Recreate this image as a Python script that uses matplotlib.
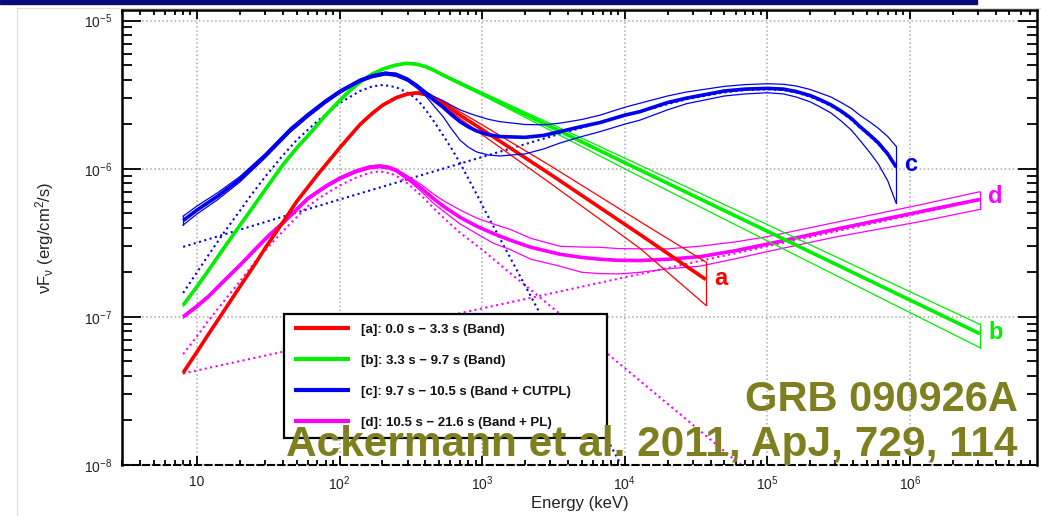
import numpy as np
import matplotlib
matplotlib.use('Agg')
import matplotlib.pyplot as plt
from matplotlib.ticker import LogLocator, FixedLocator, FuncFormatter, NullFormatter
from matplotlib.patches import Rectangle
from matplotlib.lines import Line2D

plt.rcParams['font.family'] = ['Liberation Sans', 'DejaVu Sans']
plt.rcParams['mathtext.fontset'] = 'custom'
plt.rcParams['mathtext.rm'] = 'Liberation Sans'
plt.rcParams['mathtext.it'] = 'Liberation Sans:italic'
plt.rcParams['mathtext.bf'] = 'Liberation Sans:bold'

# [a] 0.0 s - 3.3 s (Band)
e_a = [8, 10, 12, 15, 20, 25, 30, 40, 50, 70, 100, 120, 140, 170, 200, 250, 300, 350, 400, 460, 530, 700,
       1000, 3000, 1.28e4, 3.7e4]
f_a = [4.2e-8, 5.8e-8, 7.6e-8, 1.05e-7, 1.6e-7, 2.2e-7, 2.9e-7, 4.35e-7, 6.0e-7, 9.1e-7, 1.38e-6, 1.69e-6,
       2.0e-6, 2.37e-6, 2.68e-6, 3.02e-6, 3.2e-6, 3.25e-6, 3.18e-6, 3.0e-6, 2.77e-6, 2.3e-6, 1.84e-6, 9.2e-7,
       3.6e-7, 1.79e-7]
hi_a = [4.26e-8, 5.89e-8, 7.71e-8, 1.066e-7, 1.624e-7, 2.23e-7, 2.94e-7, 4.42e-7, 6.09e-7, 9.24e-7, 1.4e-6,
        1.715e-6, 2.03e-6, 2.41e-6, 2.72e-6, 3.07e-6, 3.25e-6, 3.3e-6, 3.23e-6, 3.06e-6, 2.86e-6, 2.42e-6,
        1.98e-6, 1.05e-6, 4.4e-7, 2.35e-7]
lo_a = [4.14e-8, 5.71e-8, 7.49e-8, 1.034e-7, 1.576e-7, 2.17e-7, 2.86e-7, 4.28e-7, 5.91e-7, 8.96e-7, 1.36e-6,
        1.665e-6, 1.97e-6, 2.33e-6, 2.64e-6, 2.97e-6, 3.15e-6, 3.2e-6, 3.13e-6, 2.94e-6, 2.68e-6, 2.18e-6,
        1.7e-6, 8.0e-7, 2.9e-7, 1.2e-7]

# [b] 3.3 s - 9.7 s (Band)
e_b = [8, 10, 12, 15, 20, 25, 30, 40, 50, 60, 80, 100, 120, 140, 170, 200, 240, 290, 340, 400, 460, 530, 700,
       1000, 3000, 1e4, 1e5, 1e6, 3.1e6]
f_b = [1.2e-7, 1.6e-7, 2.05e-7, 2.8e-7, 4.15e-7, 5.6e-7, 7.2e-7, 1.06e-6, 1.38e-6, 1.67e-6, 2.3e-6, 2.88e-6,
       3.42e-6, 3.87e-6, 4.37e-6, 4.7e-6, 4.97e-6, 5.15e-6, 5.1e-6, 4.9e-6, 4.62e-6, 4.3e-6, 3.78e-6, 3.21e-6,
       1.93e-6, 1.1e-6, 3.79e-7, 1.3e-7, 7.7e-8]
hi_b = [1.224e-7, 1.632e-7, 2.09e-7, 2.86e-7, 4.23e-7, 5.71e-7, 7.34e-7, 1.081e-6, 1.408e-6, 1.703e-6,
        2.346e-6, 2.94e-6, 3.49e-6, 3.95e-6, 4.42e-6, 4.76e-6, 5.03e-6, 5.21e-6, 5.16e-6, 4.96e-6, 4.68e-6,
        4.36e-6, 3.84e-6, 3.28e-6, 2.02e-6, 1.18e-6, 4.2e-7, 1.48e-7, 8.9e-8]
lo_b = [1.176e-7, 1.568e-7, 2.01e-7, 2.74e-7, 4.07e-7, 5.49e-7, 7.06e-7, 1.039e-6, 1.352e-6, 1.637e-6,
        2.254e-6, 2.82e-6, 3.35e-6, 3.79e-6, 4.32e-6, 4.64e-6, 4.91e-6, 5.09e-6, 5.04e-6, 4.84e-6, 4.56e-6,
        4.24e-6, 3.71e-6, 3.14e-6, 1.82e-6, 1.0e-6, 3.26e-7, 1.07e-7, 6.2e-8]

# [c] 9.7 s - 10.5 s (Band + CUTPL)
e_c = [8, 10, 14, 20, 30, 45, 60, 80, 100, 120, 140, 170, 210, 250, 300, 350, 408, 460, 533, 600, 700, 800,
       914, 1100, 1330, 2000, 2700, 3500, 5000, 6700, 1e4, 1.28e4, 2e4, 2.72e4, 5e4, 7e4, 1e5, 1.3e5, 1.6e5,
       2e5, 2.34e5, 2.8e5, 3.3e5, 3.9e5, 4.46e5, 5.2e5, 6e5, 7e5, 8e5]
f_c = [4.47e-7, 5.26e-7, 6.54e-7, 8.5e-7, 1.22e-6, 1.82e-6, 2.3e-6, 2.85e-6, 3.3e-6, 3.65e-6, 3.95e-6,
       4.22e-6, 4.4e-6, 4.32e-6, 4.0e-6, 3.62e-6, 3.2e-6, 2.9e-6, 2.6e-6, 2.35e-6, 2.08e-6, 1.92e-6, 1.8e-6,
       1.7e-6, 1.65e-6, 1.63e-6, 1.68e-6, 1.78e-6, 1.93e-6, 2.05e-6, 2.3e-6, 2.43e-6, 2.8e-6, 3.0e-6, 3.35e-6,
       3.45e-6, 3.49e-6, 3.45e-6, 3.32e-6, 3.12e-6, 2.93e-6, 2.7e-6, 2.45e-6, 2.18e-6, 1.93e-6, 1.7e-6, 1.5e-6,
       1.26e-6, 1.03e-6]
hi_c = [4.79e-7, 5.6e-7, 6.9e-7, 8.85e-7, 1.26e-6, 1.88e-6, 2.37e-6, 2.93e-6, 3.39e-6, 3.73e-6, 4.04e-6,
        4.32e-6, 4.5e-6, 4.42e-6, 4.1e-6, 3.71e-6, 3.3e-6, 3.07e-6, 2.88e-6, 2.7e-6, 2.5e-6, 2.38e-6, 2.28e-6,
        2.16e-6, 2.08e-6, 1.99e-6, 1.98e-6, 2.03e-6, 2.15e-6, 2.3e-6, 2.6e-6, 2.77e-6, 3.1e-6, 3.3e-6, 3.6e-6,
        3.7e-6, 3.75e-6, 3.72e-6, 3.62e-6, 3.43e-6, 3.25e-6, 3.05e-6, 2.8e-6, 2.55e-6, 2.3e-6, 2.08e-6,
        1.88e-6, 1.65e-6, 1.42e-6]
lo_c = [4.17e-7, 4.95e-7, 6.2e-7, 8.15e-7, 1.18e-6, 1.76e-6, 2.23e-6, 2.77e-6, 3.22e-6, 3.57e-6, 3.86e-6,
        4.12e-6, 4.3e-6, 4.2e-6, 3.9e-6, 3.5e-6, 3.05e-6, 2.65e-6, 2.25e-6, 1.9e-6, 1.56e-6, 1.4e-6, 1.3e-6,
        1.24e-6, 1.22e-6, 1.26e-6, 1.36e-6, 1.49e-6, 1.65e-6, 1.78e-6, 2.0e-6, 2.13e-6, 2.5e-6, 2.75e-6,
        3.1e-6, 3.2e-6, 3.26e-6, 3.2e-6, 3.05e-6, 2.83e-6, 2.62e-6, 2.38e-6, 2.1e-6, 1.82e-6, 1.56e-6, 1.3e-6,
        1.08e-6, 8.3e-7, 5.9e-7]
e_c_band = [8, 10, 12, 15.3, 20, 23.5, 30, 40, 50, 70, 100, 139, 170, 203, 250, 312, 360, 408, 470, 533, 610,
            698, 800, 914, 1050, 1190, 1410, 1800, 2540, 4000, 5700, 1e4]
f_c_band = [1.45e-7, 2.0e-7, 2.6e-7, 3.66e-7, 5.2e-7, 6.47e-7, 8.8e-7, 1.23e-6, 1.56e-6, 2.1e-6, 2.77e-6,
            3.35e-6, 3.6e-6, 3.68e-6, 3.55e-6, 3.2e-6, 2.85e-6, 2.45e-6, 2.02e-6, 1.68e-6, 1.37e-6, 1.1e-6,
            8.6e-7, 6.75e-7, 5.2e-7, 4.15e-7, 3.06e-7, 1.97e-7, 1.06e-7, 4.7e-8, 2.48e-8, 9.0e-9]
e_c_cpl = [8, 100, 1000, 3500, 1e4, 2e4, 2.72e4, 5e4, 7e4, 1e5, 1.3e5, 1.6e5, 2e5, 2.34e5, 2.8e5, 3.3e5, 3.9e5,
           4.46e5, 5.2e5, 6e5, 7e5, 8e5]
f_c_cpl = [2.97e-7, 6.2e-7, 1.2e-6, 1.72e-6, 2.28e-6, 2.73e-6, 2.95e-6, 3.28e-6, 3.4e-6, 3.44e-6, 3.4e-6,
           3.27e-6, 3.07e-6, 2.88e-6, 2.65e-6, 2.41e-6, 2.14e-6, 1.9e-6, 1.67e-6, 1.47e-6, 1.24e-6, 1.02e-6]

# [d] 10.5 s - 21.6 s (Band + PL)
e_d = [8, 10, 12, 15, 20, 26, 32, 40, 50, 60, 80, 100, 130, 163, 192, 220, 250, 312, 380, 450, 533, 700, 914,
       1200, 1570, 2200, 3500, 5000, 6750, 9000, 1.28e4, 2e4, 3.37e4, 6e4, 1e5, 3e5, 1.17e6, 3.1e6]
f_d = [1.0e-7, 1.18e-7, 1.37e-7, 1.7e-7, 2.23e-7, 2.9e-7, 3.55e-7, 4.3e-7, 5.3e-7, 6.3e-7, 7.6e-7, 8.6e-7,
       9.6e-7, 1.025e-6, 1.04e-6, 1.02e-6, 9.75e-7, 8.45e-7, 7.3e-7, 6.35e-7, 5.6e-7, 4.7e-7, 4.1e-7, 3.65e-7,
       3.3e-7, 2.95e-7, 2.65e-7, 2.52e-7, 2.45e-7, 2.41e-7, 2.4e-7, 2.45e-7, 2.55e-7, 2.8e-7, 3.1e-7, 3.9e-7,
       5.12e-7, 6.21e-7]
hi_d = [1.02e-7, 1.21e-7, 1.4e-7, 1.74e-7, 2.28e-7, 2.97e-7, 3.63e-7, 4.4e-7, 5.42e-7, 6.45e-7, 7.77e-7,
        8.8e-7, 9.82e-7, 1.048e-6, 1.064e-6, 1.043e-6, 9.97e-7, 8.75e-7, 7.73e-7, 6.81e-7, 6.1e-7, 5.27e-7,
        4.65e-7, 4.24e-7, 3.9e-7, 3.39e-7, 3.0e-7, 2.96e-7, 2.95e-7, 2.89e-7, 2.88e-7, 2.88e-7, 3.0e-7,
        3.21e-7, 3.48e-7, 4.34e-7, 5.7e-7, 7.0e-7]
lo_d = [9.8e-8, 1.15e-7, 1.34e-7, 1.66e-7, 2.18e-7, 2.83e-7, 3.47e-7, 4.2e-7, 5.18e-7, 6.15e-7, 7.43e-7,
        8.4e-7, 9.38e-7, 1.0e-6, 1.016e-6, 9.97e-7, 9.53e-7, 8.16e-7, 6.94e-7, 5.92e-7, 5.19e-7, 4.24e-7,
        3.65e-7, 3.14e-7, 2.85e-7, 2.45e-7, 2.2e-7, 2.0e-7, 1.96e-7, 1.95e-7, 2.0e-7, 2.11e-7, 2.2e-7, 2.47e-7,
        2.76e-7, 3.46e-7, 4.39e-7, 5.32e-7]
e_d_band = [8, 10, 12, 15.3, 20, 26.2, 35, 45, 58.7, 75, 100, 130, 163, 192, 230, 270, 312, 380, 450, 533, 700,
            1020, 1500, 2200, 3500, 6000, 1.28e4, 3e4, 5.8e4, 7.5e4]
f_d_band = [5.6e-8, 7.4e-8, 9.4e-8, 1.26e-7, 1.74e-7, 2.42e-7, 3.3e-7, 4.25e-7, 5.5e-7, 6.5e-7, 7.7e-7, 8.7e-7,
            9.4e-7, 9.6e-7, 9.3e-7, 8.6e-7, 7.7e-7, 6.5e-7, 5.5e-7, 4.7e-7, 3.7e-7, 2.8e-7, 2.05e-7, 1.52e-7,
            1.05e-7, 6.8e-8, 3.7e-8, 1.87e-8, 1.1e-8, 9.0e-9]
e_d_pl = [8, 3.1e6]
f_d_pl = [4.15e-8, 6.15e-7]

labels = ['[a]: 0.0 s \u2212 3.3 s (Band)',
          '[b]: 3.3 s \u2212 9.7 s (Band)',
          '[c]: 9.7 s \u2212 10.5 s (Band + CUTPL)',
          '[d]: 10.5 s \u2212 21.6 s (Band + PL)']
colors = ['#ff0000', '#00f000', '#0000f0', '#ff00ff']
olive = '#7f7f20'

fig = plt.figure(figsize=(10.41, 5.16), dpi=100)
ax = fig.add_axes([122 / 1041, 1 - 465 / 516, 915 / 1041, 455 / 516])

# slide decoration
fig.patches.append(Rectangle((0, 1 - 4 / 516), 977 / 1041, 4 / 516, transform=fig.transFigure,
                             color='#0a0a7a', zorder=0))
fig.lines.append(Line2D([17 / 1041, 17 / 1041], [0, 1 - 8 / 516], transform=fig.transFigure,
                        color='#dddddd', lw=0.8))
fig.lines.append(Line2D([17 / 1041, 1], [1 - 8 / 516, 1 - 8 / 516], transform=fig.transFigure,
                        color='#dddddd', lw=0.8))


def bowtie(e, mid, hi, lo, color, close_start=False):
    ax.plot(e, hi, color=color, lw=0.9)
    ax.plot(e, lo, color=color, lw=0.9)
    ax.plot([e[-1], e[-1]], [lo[-1], hi[-1]], color=color, lw=0.9)
    if close_start:
        ax.plot([e[0], e[0]], [lo[0], hi[0]], color=color, lw=0.9)
    line, = ax.plot(e, mid, color=color, lw=2.6, solid_capstyle='butt', solid_joinstyle='round')
    return line


# component models (dotted)
ax.plot(e_d_band, f_d_band, color=colors[3], lw=1.5, ls=':')
ax.plot(e_d_pl, f_d_pl, color=colors[3], lw=1.5, ls=':')
ax.plot(e_c_band, f_c_band, color=colors[2], lw=1.5, ls=':')
ax.plot(e_c_cpl, f_c_cpl, color=colors[2], lw=1.5, ls=':')

ld = bowtie(e_d, f_d, hi_d, lo_d, colors[3])
la = bowtie(e_a, f_a, hi_a, lo_a, colors[0])
lb = bowtie(e_b, f_b, hi_b, lo_b, colors[1])
lc = bowtie(e_c, f_c, hi_c, lo_c, colors[2], close_start=True)

# end labels
for e, f, c, t, dy in [(e_a, f_a, colors[0], 'a', 1), (e_b, f_b, colors[1], 'b', 1),
                       (e_c, f_c, colors[2], 'c', 2), (e_d, f_d, colors[3], 'd', 2)]:
    ax.annotate(t, (e[-1], f[-1]), xytext=(6, dy), textcoords='offset points',
                color=c, fontsize=17, fontweight='bold', ha='left', va='center')

ax.set_xscale('log')
ax.set_yscale('log')
ax.set_xlim(2.98, 7.8e6)
ax.set_ylim(1e-8, 1.18e-5)

ax.xaxis.set_major_locator(FixedLocator([1e1, 1e2, 1e3, 1e4, 1e5, 1e6]))
ax.xaxis.set_minor_locator(LogLocator(base=10, subs=np.arange(2, 10), numticks=100))
ax.xaxis.set_minor_formatter(NullFormatter())
ax.xaxis.set_major_formatter(FuncFormatter(
    lambda v, p: '10' if abs(v - 10) < 1e-6 else r'$10^{%d}$' % round(np.log10(v))))
ax.yaxis.set_major_locator(FixedLocator([1e-8, 1e-7, 1e-6, 1e-5]))
ax.yaxis.set_minor_locator(LogLocator(base=10, subs=np.arange(2, 10), numticks=100))
ax.yaxis.set_minor_formatter(NullFormatter())

ax.tick_params(which='both', direction='in', top=True, right=True, width=1.3, colors='black',
               labelcolor='#222222', labelsize=10)
ax.tick_params(axis='y', which='major', length=14, pad=7)
ax.tick_params(axis='y', which='minor', length=7.5)
ax.tick_params(axis='x', which='major', length=6.5, pad=7)
ax.tick_params(axis='x', which='minor', length=3.8)

for s in ['left', 'top', 'right']:
    ax.spines[s].set_linewidth(1.8)
ax.spines['bottom'].set_linewidth(1.5)
ax.spines['bottom'].set_linestyle((0, (3, 2)))

ax.grid(True, which='major', color='#aaaaaa', ls=':', lw=1.1)

ax.set_xlabel('Energy (keV)', fontsize=12, color='#222222', labelpad=2)
ax.set_ylabel('\u03bdF$_\\mathregular{\u03bd}$ (erg/cm$^2$/s)', fontsize=12, color='#222222', labelpad=20)

leg = ax.legend([la, lb, lc, ld], labels, loc='upper left',
                bbox_to_anchor=(162 / 915, 151 / 455, 323 / 915, 0.0), mode='expand',
                prop={'weight': 'bold', 'size': 9.5}, handlelength=4.3, handletextpad=0.8,
                labelspacing=1.42, borderpad=0.72, fancybox=False, framealpha=1, borderaxespad=0)
leg.get_frame().set_edgecolor('black')
leg.get_frame().set_linewidth(1.6)
for h in leg.get_lines():
    h.set_linewidth(3)
for t in leg.get_texts():
    t.set_color('#111111')

fig.text(1018 / 1041, 1 - 411 / 516, 'GRB 090926A', fontsize=30, fontweight='bold',
         color=olive, ha='right', va='baseline', zorder=10)
fig.text(1018 / 1041, 1 - 456 / 516, 'Ackermann et al. 2011, ApJ, 729, 114', fontsize=30.5,
         fontweight='bold', color=olive, ha='right', va='baseline', zorder=10)

fig.savefig('out.png', dpi=100)
